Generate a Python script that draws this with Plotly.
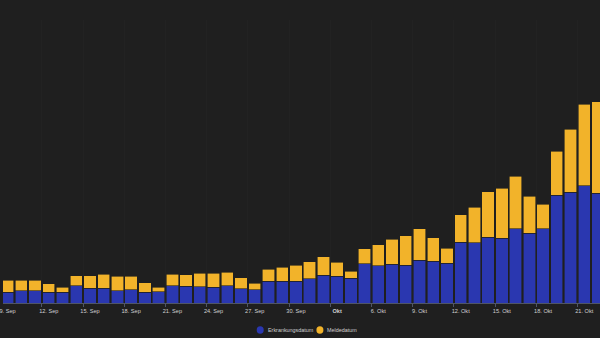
import plotly.graph_objects as go
import pandas as pd

start_date = "2020-09-09"
n_days = 44
dates = pd.date_range(start_date, periods=n_days, freq="D")

# Totals (Erkrankungsdatum + Meldedatum) and Erkrankungsdatum values
totals = [230, 230, 230, 195, 160, 275, 275, 290, 270, 270, 205,
          160, 290, 283, 297, 300, 310, 253, 200, 340, 357, 380,
          413, 463, 407, 320, 543, 583, 640, 673, 743, 653, 550,
          883, 957, 1113, 1147, 1267, 1070, 987, 1520, 1737, 1990, 2013]
erkrankung = [110, 125, 125, 110, 110, 175, 150, 150, 125, 135, 110,
              113, 173, 167, 163, 160, 173, 143, 133, 220, 220, 220,
              243, 280, 270, 250, 393, 373, 387, 380, 427, 420, 397,
              610, 603, 657, 650, 743, 697, 743, 1080, 1107, 1173, 1100]
melde = [t - e for t, e in zip(totals, erkrankung)]

tick_dates = ["2020-09-09", "2020-09-12", "2020-09-15", "2020-09-18", "2020-09-21",
              "2020-09-24", "2020-09-27", "2020-09-30", "2020-10-03", "2020-10-06",
              "2020-10-09", "2020-10-12", "2020-10-15", "2020-10-18", "2020-10-21"]
tick_labels = ["9. Sep", "12. Sep", "15. Sep", "18. Sep", "21. Sep", "24. Sep",
               "27. Sep", "30. Sep", "<b>Okt</b>", "6. Okt", "9. Okt", "12. Okt",
               "15. Okt", "18. Okt", "21. Okt"]

series_names = ["Erkrankungsdatum", "Meldedatum"]

BLUE = "#2a37b0"
ORANGE = "#f2b32a"
BG = "#1f1f1f"
TXT = "#d0d0d0"

fig = go.Figure()
fig.add_trace(go.Bar(x=dates, y=erkrankung, name=series_names[0],
                     marker=dict(color=BLUE, line=dict(color=BG, width=0.6)),
                     showlegend=False))
fig.add_trace(go.Bar(x=dates, y=melde, name=series_names[1],
                     marker=dict(color=ORANGE, line=dict(color=BG, width=0.6)),
                     showlegend=False))

minor_vals = [(pd.Timestamp(d) - pd.Timedelta(hours=12)).strftime("%Y-%m-%d %H:%M") for d in tick_dates]

# legend drawn as symbol shapes + text annotations (compact like the original)
legend_items = [(series_names[0], BLUE, 0.425, 0.44), (series_names[1], ORANGE, 0.525, 0.54)]
shapes = []
annotations = []
for nm, col, sx, tx in legend_items:
    shapes.append(dict(type="circle", xref="paper", yref="paper",
                       x0=sx, x1=sx + 0.0117, y0=-0.109, y1=-0.0825,
                       fillcolor=col, line=dict(width=0)))
    annotations.append(dict(text=nm, xref="paper", yref="paper", x=tx, y=-0.0954,
                            xanchor="left", yanchor="middle", showarrow=False,
                            font=dict(size=5.4, color=TXT)))

fig.update_layout(
    width=600, height=338,
    margin=dict(l=0, r=0, t=20, b=35),
    paper_bgcolor=BG, plot_bgcolor=BG,
    barmode="stack", bargap=0.1,
    font=dict(family="Liberation Sans, Arial, sans-serif", color=TXT, size=5.5),
    xaxis=dict(
        type="date",
        range=["2020-09-08 16:00", "2020-10-22 03:30"],
        tickvals=tick_dates, ticktext=tick_labels,
        ticks="", showgrid=False,
        showline=True, linecolor="#4f5566", linewidth=1,
        tickfont=dict(size=5.6, color=TXT),
        ticklabeloverflow="allow",
        ticklabelstandoff=2,
        minor=dict(tickvals=minor_vals, ticks="outside", ticklen=3,
                   tickcolor="#4f5566", tickwidth=1,
                   showgrid=True, gridcolor="#222222", gridwidth=1),
        zeroline=False,
    ),
    yaxis=dict(range=[0, 2830], visible=False, showgrid=False),
    shapes=shapes,
    annotations=annotations,
    showlegend=False,
)

fig.write_html("out.html")
